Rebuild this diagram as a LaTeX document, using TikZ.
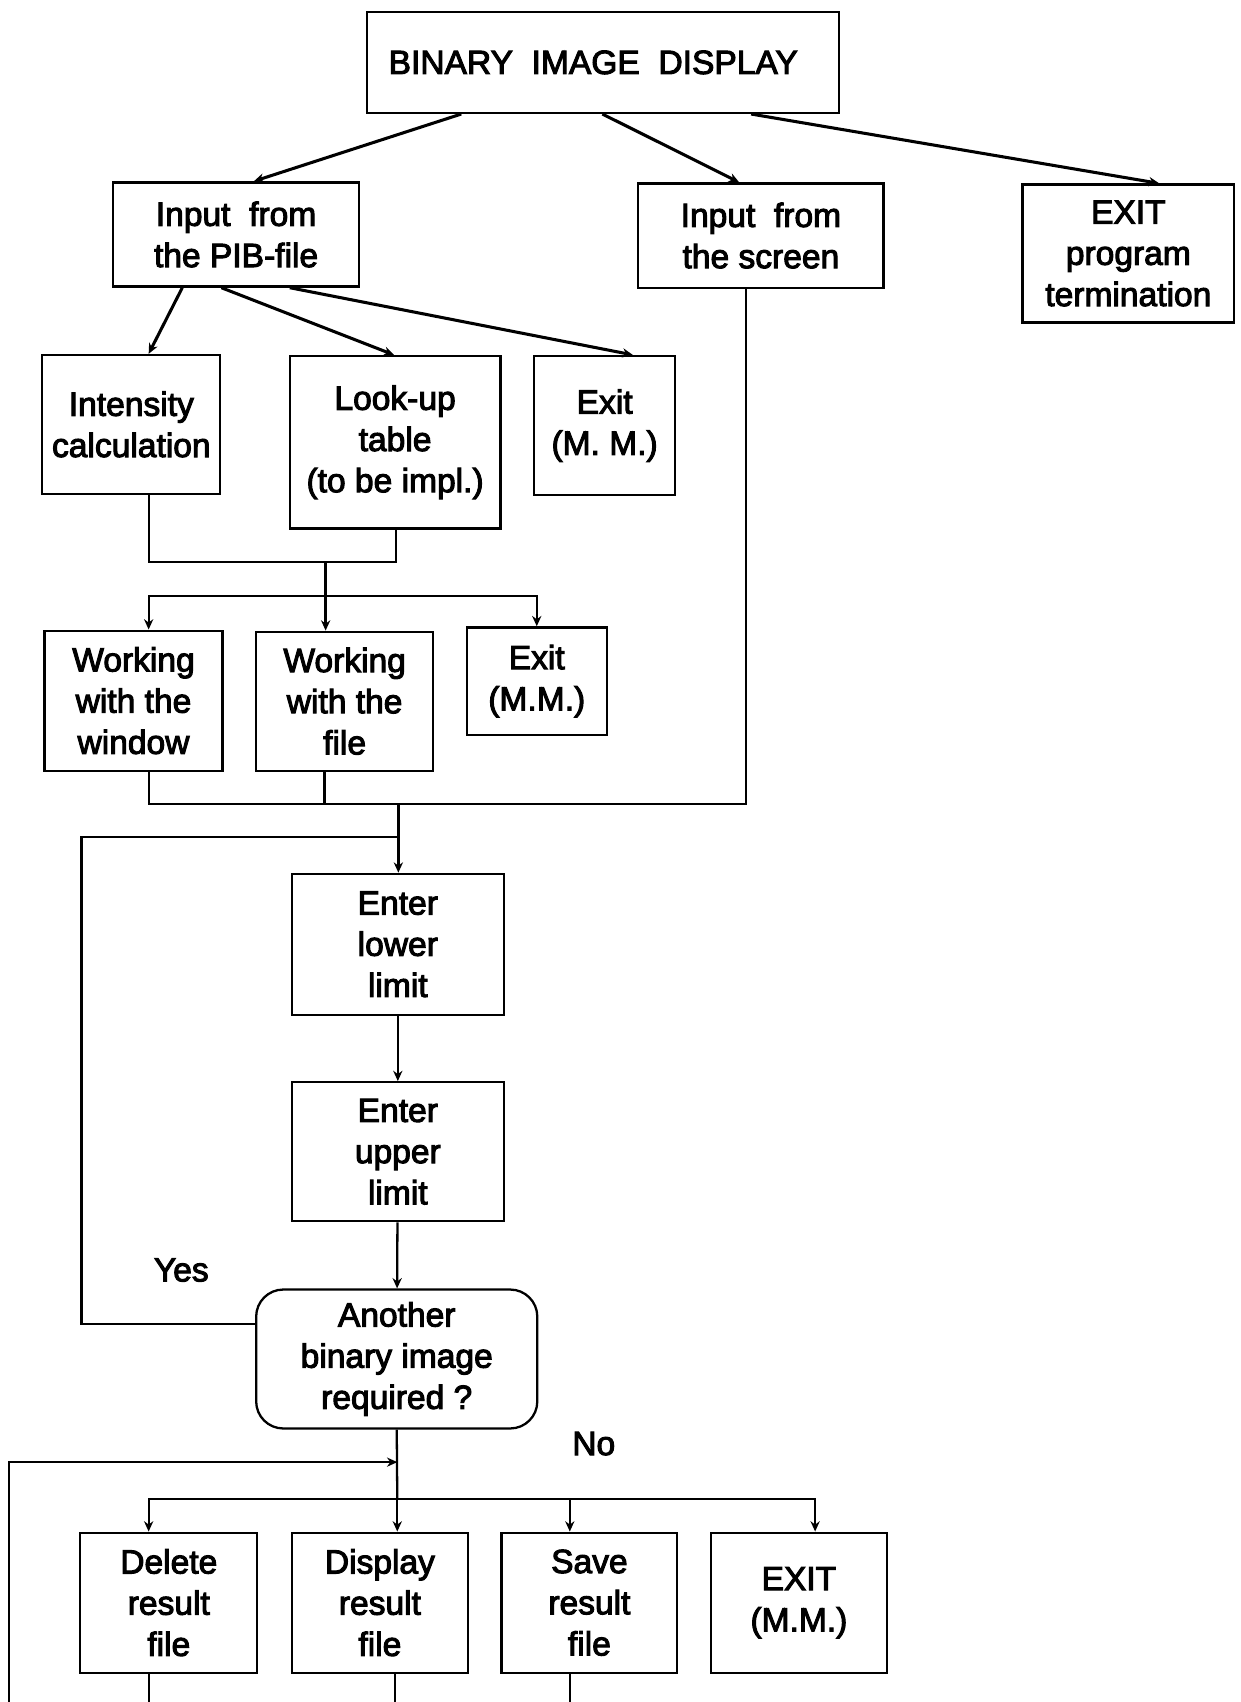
\documentclass[tikz,border=0pt]{standalone}
\usepackage{fontspec}
\setmainfont{Liberation Sans}[FakeBold=3]
\usetikzlibrary{arrows.meta,calc}

\begin{document}
\begin{tikzpicture}[
  x=0.02cm, y=-0.02cm,
  line width=1.2pt,
  every node/.style={font=\fontsize{17.6}{21.6}\selectfont, inner sep=0pt, align=center},
  box/.style 2 args={draw, line width=1.2pt, minimum width=#1*0.02cm, minimum height=#2*0.02cm},
  decision/.style 2 args={box={#1}{#2}, rounded corners=0.5cm},
  arr/.style={-{Stealth[length=1.9mm,width=1.7mm]}},
  diag/.style={arr, line width=1.6pt},
]
\useasboundingbox (0,0) rectangle (1143,1568);

% ---- nodes
\node[box={435}{93}]  (title)     at (555.5,57.5) {BINARY\ \ IMAGE\ \ DISPLAY\hspace*{0.36cm}};
\node[box={227}{96}]  (pib)       at (217.5,216)  {Input\ \ from\\the PIB-file};
\node[box={226}{96}]  (screen)    at (701,217)    {Input\ \ from\\the screen};
\node[box={195}{127}] (exitprog)  at (1039.5,233.5) {EXIT\\program\\termination};

\node[box={164}{128}] (intensity) at (121,391)    {Intensity\\calculation};
\node[box={194}{159}] (lookup)    at (364,407.5)  {Look-up\\table\\(to be impl.)};
\node[box={130}{128}] (exitmmA)   at (557,392)    {Exit\\(M. M.)};

\node[box={164}{129}] (window)    at (123,645.5)  {Working\\with the\\window};
\node[box={163}{128}] (file)      at (317.5,646)  {Working\\with the\\file};
\node[box={129}{99}]  (exitmmB)   at (494.5,627.5) {Exit\\(M.M.)};

\node[box={195}{130}] (lower)     at (366.5,870)  {Enter\\lower\\limit};
\node[box={195}{128}] (upper)     at (366.5,1061) {Enter\\upper\\limit};
\node[decision={259}{128}] (dec)  at (365.5,1252) {Another\\binary image\\required ?};

\node[box={163}{129}] (delete)    at (155.5,1476.5) {Delete\\result\\file};
\node[box={162}{129}] (display)   at (350,1476.5)   {Display\\result\\file};
\node[box={162}{129}] (save)      at (543,1476.5)   {Save\\result\\file};
\node[box={162}{129}] (exitmmC)   at (736,1476.5)   {EXIT\\(M.M.)};

\node (yes) at (167,1170) {Yes};
\node (no)  at (547,1330) {No};

% ---- junction points
\coordinate (j1) at (300,518);
\coordinate (j2) at (300,549);
\coordinate (j3) at (367,741);
\coordinate (j4) at (367,771);
\coordinate (loopA) at (75,771);
\coordinate (j5) at (366,1347);
\coordinate (j6) at (366,1381);
\coordinate (loopB) at (8.5,1568);

% ---- main menu branches
\draw[diag] ($(title.south west)+(88,0)$)  -- ($(pib.north west)+(131,0)$);
\draw[diag] ($(title.south west)+(218,0)$) -- ($(screen.north west)+(94,0)$);
\draw[diag] ($(title.south west)+(355,0)$) -- ($(exitprog.north west)+(127,0)$);

% ---- PIB-file branches
\draw[diag] ($(pib.south west)+(65,0)$)  -- ($(intensity.north west)+(99,0)$);
\draw[diag] ($(pib.south west)+(101,0)$) -- ($(lookup.north west)+(97,0)$);
\draw[diag] ($(pib.south west)+(164,0)$) -- ($(exitmmA.north west)+(92,0)$);

% ---- merge and split
\draw ($(intensity.south west)+(99,0)$) |- (j1) -| ($(lookup.south west)+(99,0)$);
\draw (j1) -- (j2);
\draw[arr] (j2) -| ($(window.north west)+(97,0)$);
\draw[arr] (j2) -- (file.north -| j2);
\draw[arr] (j2) -| (exitmmB.north);

% ---- collect into limit entry
\draw ($(window.south west)+(97,0)$) |- (j3) -| ($(screen.south west)+(100,0)$);
\draw ($(file.south west)+(64,0)$) -- ($(file.south west)+(64,31)$);
\draw[arr] (j3) -- (lower.north -| j3);
\draw ($(dec.west)+(0,-32)$) -| (loopA) -- (j4);
\draw[arr] (lower) -- (upper);
\draw[arr] (upper) -- (dec);

% ---- result file menu
\draw (dec.south) -- (j6);
\draw[arr] (loopB) |- (j5);
\draw[arr] (j6) -| ($(delete.north west)+(64,0)$);
\draw[arr] (j6) -- (display.north -| j6);
\draw[arr] (j6) -| ($(save.north west)+(64,0)$);
\draw[arr] (j6) -| ($(exitmmC.north west)+(97,0)$);

\draw ($(delete.south west)+(64,0)$)  -- ++(0,27);
\draw ($(display.south west)+(96,0)$) -- ++(0,27);
\draw ($(save.south west)+(64,0)$)    -- ++(0,27);
\end{tikzpicture}
\end{document}
